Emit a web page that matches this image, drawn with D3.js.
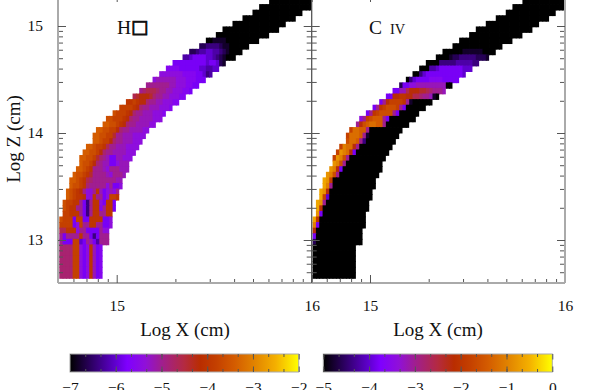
<!DOCTYPE html>
<html lang="en">

<head>
    <meta charset="UTF-8">
    <title></title>
    <style>
        body {
            margin: 0;
            background: #fff;
        }

        svg {
            display: block;
        }

        text {
            font-family: "Liberation Serif", serif;
            fill: #111;
        }

        .tick text {
            font-size: 15.5px;
        }

        .tick line {
            stroke: #555;
            stroke-width: 1px;
        }

        .domain {
            fill: none;
            stroke: #aaa;
            stroke-width: 2px;
        }

        .middle .domain {
            stroke: #555;
            stroke-width: 1px;
        }

        .axis-label {
            font-size: 19px;
            text-anchor: middle;
        }
    </style>
</head>

<body>
    <script src="https://d3js.org/d3.v7.min.js"></script>
    <script>
        const width = 598;
        const height = 390;

        // one letter per cell, a = bottom of the colour bar, each next letter 0.2 dex higher
        const levelLetters = 'abcdefghijklmnopqrstuvwxyz';

        // first and last+1 column of the grid in each row, bottom row first
        const rowStart = [0, 0, 0, 0, 0, 0, 0, 0, 0, 0, 0, 1, 1, 1, 2, 2, 3, 3, 4, 5, 6, 6, 7, 8, 10, 10, 11, 13, 14, 16, 18, 20, 22, 24, 26, 28, 30, 32, 34, 37, 39, 42, 44, 47, 49, 52, 55, 58, 60, 63];
        const rowEnd = [13, 13, 13, 13, 13, 13, 15, 15, 15, 16, 16, 16, 17, 17, 18, 18, 19, 19, 20, 21, 21, 22, 23, 24, 25, 26, 27, 29, 31, 32, 34, 36, 38, 40, 42, 44, 46, 48, 50, 53, 55, 57, 60, 63, 66, 68, 71, 73, 76, 76];

        // H panel, log fraction -7 .. -2
        const hLevels = [
            'llllqqigipjgh', 'llllqqigipjgh', 'llllqqigipjgh', 'llllqqigipjgh', 'llllqqigipjgh', 'llllqqigipjgh',
            'kgggqqfgkjgekkk', 'kgkkkkpkkgdgkkk', 'mmpppikkggggkii', 'qqqqgiqkkppkkggi', 'rqqqgqqggppppggi',
            'qqpppkgdkppkkpp', 'rqppkkgdkpphkppg', 'rqqppkgdkppigppg', 'srqppoiipkkgiqqp', 'srqpokiikpjgijik',
            'srrqplkkkkkikggi', 'ssrqpmlkkkkkkkjj', 'srrqpnkkkkjikkkj', 'ssrqpkkkjikkkjjj', 'srrqolkjjggijjj',
            'ssrrqnlkjggjjiii', 'ssrrqolkkjjjjiii', 'ssrqqpmkkjjjiiii', 'ssrqqolkkjjjiii', 'ssrrqqnkkjjjiiii',
            'ssrrqqolkkjjjjii', 'ssrrqpolkkjjjjii', 'rrqqqpolkkjjjjiii', 'rqqqpolkkjjjiiih', 'qqqqpolkkjjjiiih',
            'ppqpoolkkjjiiihh', 'mnooonlkkjjiiihh', 'klmmmlkkjjiiihhg', 'kkkkkkkjjiiihhgg', 'ijjjjjjiiihhhggg',
            'iiiiiiihhhhggfde', 'hhhhggggggffeeff', 'ggggggggggfggfcb', 'eefggggffedcbaaa', 'ccdeeffeedcbaaaa',
            'ccddddcbbaaaaaa', 'aabbbbaaaaaaaaaa', '', '', '', '', '', '', ''
        ];

        // C IV panel, log fraction -5 .. 0, cells past the end of a string are at the floor
        const cLevels = [
            '', '', '', '', '', '',
            'c', 'g', 'o', 'ug', 'wp',
            'vg', 'wo', 'wvk', 'wqf', 'wvo',
            'wuk', 'wvq', 'vurk', 'vuog', 'vurk',
            'qvurk', 'qvutog', 'quttok', 'rttskd', 'qtttskb',
            'qttssk', 'korsttssk', 'ikqrssskg', 'gkpqrrrrkg', 'gkpqrrrqkg',
            'gkoqqqqpkb', 'ggooppoommlkkjba', 'ggjjmooonnmlkkkj', 'cggiijjjjjjjjjaa', 'adfgggghhhhggggg',
            'aadfgggggggggggf', 'aaaeefgggggggfff', 'aaaadddddeeeeedd', 'aaaabccdddddcccb', 'aaaaaabbbbbbaaaa',
            '', '', '', '', '', '', '', '', ''
        ];

        const colorPositions = [0, 0.1, 0.2, 0.25, 0.33, 0.4, 0.5, 0.57, 0.64, 0.72, 0.8, 0.9, 1];
        const colorValues = ['#000000', '#30006a', '#6000d0', '#7f00ff', '#9010d8', '#a01e90', '#b42a40', '#b92d00', '#c44000', '#d45c00', '#e08000', '#f4b000', '#ffff00'];

        const xMinor = [6e14, 7e14, 8e14, 9e14, 2e15, 3e15, 4e15, 5e15, 6e15, 7e15, 8e15, 9e15];
        const xMajor = [1e15, 1e16];
        const yMinor = [5e12, 6e12, 7e12, 8e12, 9e12, 2e13, 3e13, 4e13, 5e13, 6e13, 7e13, 8e13, 9e13, 2e14, 3e14, 4e14, 5e14, 6e14, 7e14, 8e14, 9e14];
        const yMajor = [1e13, 1e14, 1e15];
        const hBarTicks = [-7, -6, -5, -4, -3, -2];
        const cBarTicks = [-5, -4, -3, -2, -1, 0];

        const gridLogX = 14.7056;
        const gridStepX = 0.01708;
        const gridLogZ = 12.6449;
        const gridStepZ = 0.05224;

        const color = d3.scaleLinear().domain(colorPositions).range(colorValues);
        const yScale = d3.scaleLog().domain([1e13, 1e15]).range([240, 26]);
        const plotBottom = 283;
        const plotTop = -6;

        const svg = d3.select('body')
            .append('svg')
            .attr('width', width)
            .attr('height', height);

        const logFormat = d => String(Math.round(Math.log10(d)));

        function drawPanel(left, right, px15, levels, id) {
            const xScale = d3.scaleLog().domain([1e15, 1e16]).range([px15, px15 + 195]);
            const panel = svg.append('g');

            svg.append('clipPath')
                .attr('id', id)
                .append('rect')
                .attr('x', left)
                .attr('y', 0)
                .attr('width', right - left)
                .attr('height', plotBottom);

            const cells = [];
            levels.forEach((row, k) => {
                d3.range(rowStart[k], rowEnd[k]).forEach(c => {
                    const letter = row[c - rowStart[k]] || 'a';
                    cells.push({ c, k, t: levelLetters.indexOf(letter) / 25 });
                });
            });

            // rects overlap a little so no seams show, later ones paint over
            panel.append('g')
                .attr('clip-path', `url(#${id})`)
                .selectAll('rect')
                .data(cells)
                .enter().append('rect')
                .attr('x', d => xScale(10 ** (gridLogX + d.c * gridStepX)))
                .attr('y', d => yScale(10 ** (gridLogZ + (d.k + 1) * gridStepZ)))
                .attr('width', d => xScale(10 ** (gridLogX + (d.c + 1) * gridStepX)) - xScale(10 ** (gridLogX + d.c * gridStepX)) + (d.c + 1 < rowEnd[d.k] ? 0.8 : 0))
                .attr('height', d => yScale(10 ** (gridLogZ + d.k * gridStepZ)) - yScale(10 ** (gridLogZ + (d.k + 1) * gridStepZ)) + 0.8)
                .attr('fill', d => color(d.t))
                .sort((a, b) => b.k - a.k);

            // bottom
            panel.append('g')
                .attr('transform', `translate(0, ${plotBottom})`)
                .call(d3.axisBottom(xScale).tickValues(xMinor).tickSize(-4).tickSizeOuter(0).tickFormat(''))
                .select('.domain').remove();
            const bottom = panel.append('g')
                .attr('transform', `translate(0, ${plotBottom})`)
                .call(d3.axisBottom(xScale).tickValues(xMajor).tickSizeInner(-8).tickSizeOuter(0).tickPadding(17).tickFormat(logFormat));
            bottom.select('.domain').attr('d', `M${left},0H${right}`);

            // top, only the long ticks reach into the picture
            panel.append('g')
                .attr('transform', `translate(0, ${plotTop})`)
                .call(d3.axisTop(xScale).tickValues(xMajor).tickSize(-8).tickSizeOuter(0).tickFormat(''))
                .select('.domain').remove();

            return panel;
        }

        const leftPanel = drawPanel(58, 311.7, 116.7, hLevels, 'clip-h');
        const rightPanel = drawPanel(311.7, 565, 370, cLevels, 'clip-c');

        function drawSide(x, dir, klass, labels) {
            const make = dir > 0 ? d3.axisLeft : d3.axisRight;
            svg.append('g')
                .attr('transform', `translate(${x}, 0)`)
                .call(make(yScale).tickValues(yMinor).tickSize(-5).tickSizeOuter(0).tickFormat(''))
                .select('.domain').remove();
            const major = svg.append('g')
                .attr('class', klass)
                .attr('transform', `translate(${x}, 0)`)
                .call(make(yScale).tickValues(yMajor).tickSizeInner(-8).tickSizeOuter(0).tickPadding(labels ? 15 : 3).tickFormat(labels ? logFormat : ''));
            major.select('.domain').attr('d', `M0,${plotBottom}V0`);
        }

        drawSide(58, 1, 'outer', true);
        drawSide(311.7, -1, 'middle', false);
        drawSide(311.7, 1, 'middle', false);
        drawSide(565, -1, 'outer', false);

        // panel names
        const hName = svg.append('text').attr('x', 117).attr('y', 34).style('font-size', '19.5px');
        hName.append('tspan').text('H');
        hName.append('tspan')
            .attr('dy', -1.5)
            .text('\u25A1')
            .style('font-family', '"DejaVu Sans"')
            .style('font-size', '18px')
            .style('stroke', '#111')
            .style('stroke-width', '0.9px');

        const cName = svg.append('text').attr('x', 369).attr('y', 34).style('font-size', '19.5px');
        cName.append('tspan').text('C');
        cName.append('tspan').attr('x', 390).text('IV').style('font-size', '14.5px');

        // axis titles
        svg.append('text')
            .attr('class', 'axis-label')
            .attr('transform', 'translate(20, 139) rotate(-90)')
            .text('Log Z (cm)');
        svg.append('text').attr('class', 'axis-label').attr('x', 185).attr('y', 336).text('Log X (cm)');
        svg.append('text').attr('class', 'axis-label').attr('x', 438).attr('y', 336).text('Log X (cm)');

        // colour bars
        function drawBar(x0, x1, ticks, id) {
            const barTop = 354;
            const barBottom = 372;
            const scale = d3.scaleLinear().domain([ticks[0], ticks[ticks.length - 1]]).range([x0, x1]);
            const minor = d3.range(0, 15).map(i => ticks[0] + i / 3);

            const gradient = svg.append('linearGradient').attr('id', id);
            gradient.selectAll('stop')
                .data(colorPositions)
                .enter().append('stop')
                .attr('offset', d => d)
                .attr('stop-color', (d, i) => colorValues[i]);

            svg.append('rect')
                .attr('x', x0)
                .attr('y', barTop)
                .attr('width', x1 - x0)
                .attr('height', barBottom - barTop)
                .attr('fill', `url(#${id})`)
                .attr('stroke', '#aaa')
                .attr('stroke-width', 1);

            svg.append('g')
                .attr('transform', `translate(0, ${barTop})`)
                .call(d3.axisTop(scale).tickValues(minor).tickSize(-3).tickSizeOuter(0).tickFormat(''))
                .select('.domain').remove();
            svg.append('g')
                .attr('transform', `translate(0, ${barTop})`)
                .call(d3.axisTop(scale).tickValues(ticks).tickSize(-5.5).tickSizeOuter(0).tickFormat(''))
                .select('.domain').remove();
            svg.append('g')
                .attr('transform', `translate(0, ${barBottom})`)
                .call(d3.axisBottom(scale).tickValues(minor).tickSize(-3).tickSizeOuter(0).tickFormat(''))
                .select('.domain').remove();
            svg.append('g')
                .attr('transform', `translate(0, ${barBottom})`)
                .call(d3.axisBottom(scale).tickValues(ticks).tickSizeInner(-5.5).tickSizeOuter(0).tickPadding(10).tickFormat(d => String(d).replace('-', '\u2212')))
                .select('.domain').remove();
        }

        drawBar(70, 298.7, hBarTicks, 'bar-h');
        drawBar(323.3, 552.3, cBarTicks, 'bar-c');
    </script>
</body>

</html>
